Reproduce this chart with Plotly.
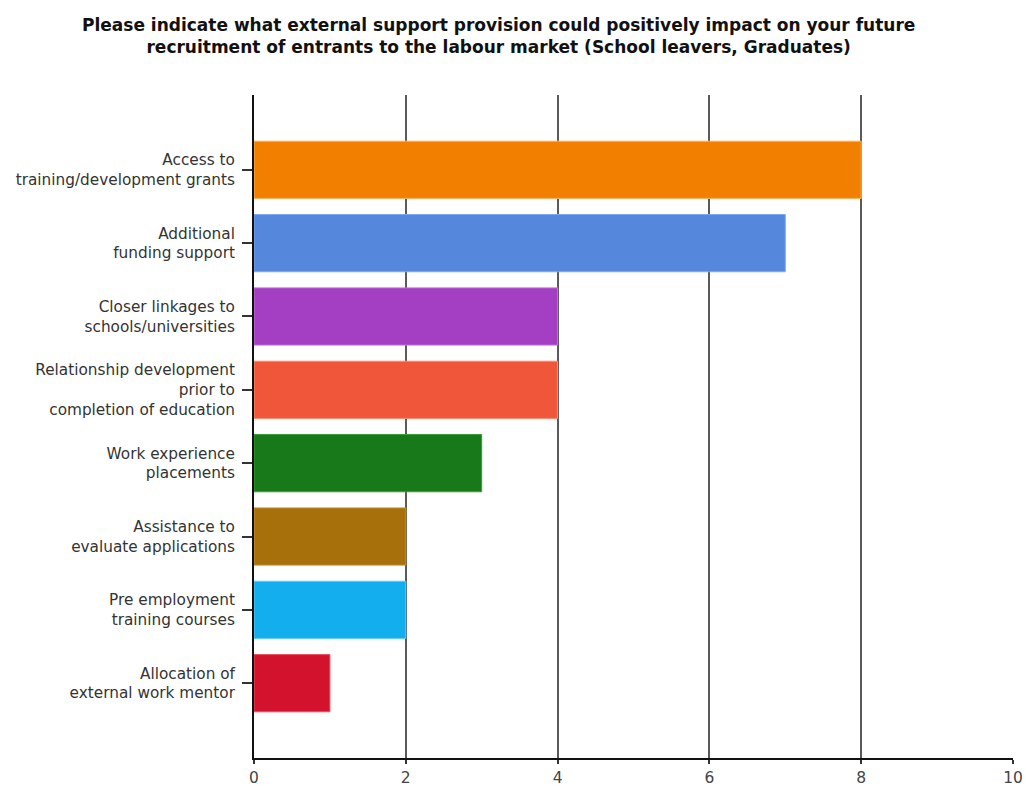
import plotly.graph_objects as go

# Survey responses: external support that could help recruit new entrants
categories = [
    "Access to<br>training/development grants",
    "Additional<br>funding support",
    "Closer linkages to<br>schools/universities",
    "Relationship development<br>prior to<br>completion of education",
    "Work experience<br>placements",
    "Assistance to<br>evaluate applications",
    "Pre employment<br>training courses",
    "Allocation of<br>external work mentor",
]
responses = [8, 7, 4, 4, 3, 2, 2, 1]
bar_colors = ["#F27F00", "#5587DC", "#A43FC4", "#F0573A",
              "#17791A", "#A8700A", "#12AEEE", "#D3132E"]
line_colors = ["#FFB060", "#7FA8EE", "#C070DA", "#FF8A6A",
               "#3C9A3C", "#C89030", "#60CCF8", "#E85060"]
x_ticks = [0, 2, 4, 6, 8, 10]

title_lines = [
    "Please indicate what external support provision could positively impact on your future",
    "recruitment of entrants to the labour market (School leavers, Graduates)",
]

fig = go.Figure()
fig.add_trace(go.Bar(
    x=responses,
    y=list(range(len(categories))),
    orientation="h",
    width=0.78,
    marker=dict(color=bar_colors, line=dict(color=line_colors, width=1)),
    hoverinfo="x",
))

n = len(categories)
pad = 1.02
label_font = "DejaVu Sans, Verdana, sans-serif"

fig.add_annotation(
    text="<b>" + "<br>".join(title_lines) + "</b>",
    xref="paper", yref="paper",
    x=0.3215, y=1.0885,
    xanchor="center", yanchor="middle",
    showarrow=False,
    align="center",
    font=dict(family=label_font, size=17, color="#111111"),
)

fig.update_layout(
    width=1026,
    height=787,
    paper_bgcolor="white",
    plot_bgcolor="white",
    margin=dict(l=254, r=13, t=95, b=29),
    showlegend=False,
    font=dict(family=label_font, color="#333333", size=15),
    xaxis=dict(
        range=[0, 10],
        tickvals=x_ticks,
        ticktext=[str(v) for v in x_ticks],
        showgrid=True,
        gridcolor="#5a5a5a",
        gridwidth=2,
        zeroline=False,
        showline=True,
        linecolor="#111111",
        linewidth=2,
        ticks="outside",
        ticklen=4,
        tickwidth=2,
        tickcolor="#333333",
        tickfont=dict(size=15.5, color="#444444"),
        automargin=False,
        fixedrange=True,
    ),
    yaxis=dict(
        range=[n - 1 + pad, -pad],
        tickvals=list(range(n)),
        ticktext=categories,
        showgrid=False,
        zeroline=False,
        showline=True,
        linecolor="#111111",
        linewidth=2,
        ticks="outside",
        ticklen=10,
        tickwidth=1.5,
        tickcolor="#333333",
        tickfont=dict(size=15.3, color="#333333"),
        ticklabelstandoff=4,
        automargin=False,
        fixedrange=True,
    ),
)

fig.write_html("out.html")
